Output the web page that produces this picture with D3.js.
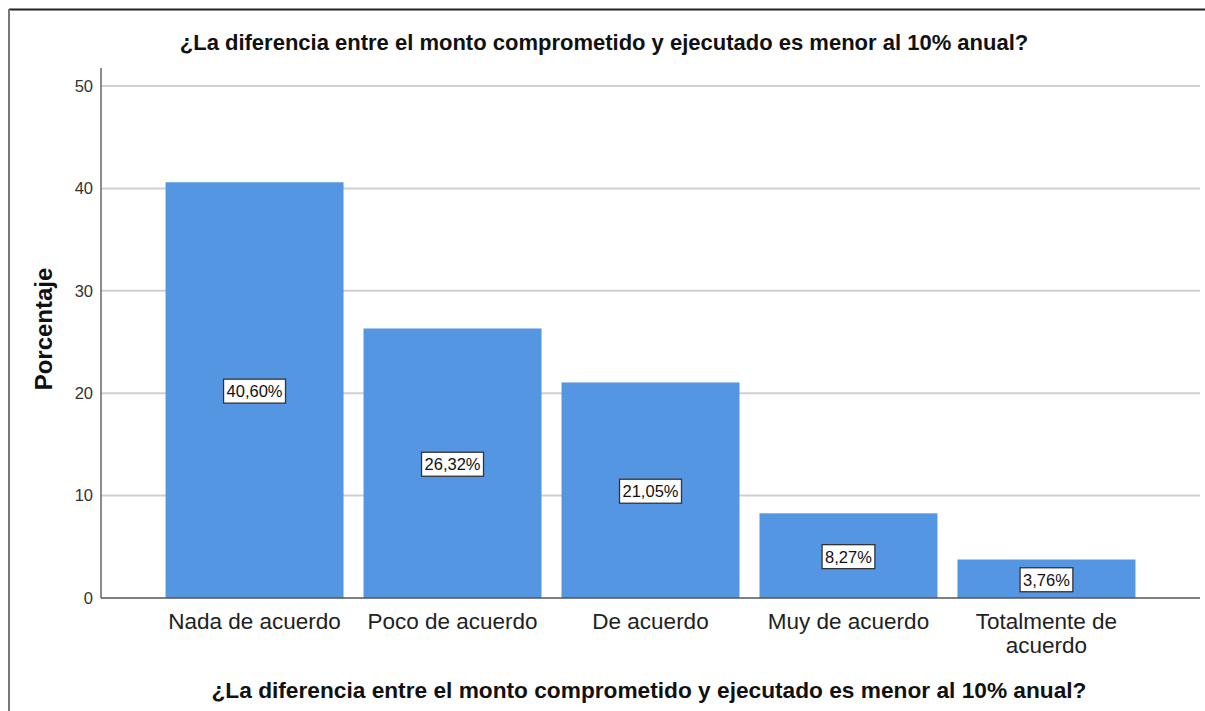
<!DOCTYPE html>
<html><head><meta charset="utf-8">
<script src="https://cdn.jsdelivr.net/npm/d3@7"></script>
<style>body{margin:0;background:#fff;font-family:"Liberation Sans",Arial,sans-serif}</style>
</head><body><svg id="c" width="1205" height="711"></svg>
<script>
const title = "¿La diferencia entre el monto comprometido y ejecutado es menor al 10% anual?";
const yLabel = "Porcentaje";
const categories = ["Nada de acuerdo","Poco de acuerdo","De acuerdo","Muy de acuerdo","Totalmente de acuerdo"];
const categoryLines = [["Nada de acuerdo"],["Poco de acuerdo"],["De acuerdo"],["Muy de acuerdo"],["Totalmente de","acuerdo"]];
const values = [40.60, 26.32, 21.05, 8.27, 3.76];
const valueLabels = ["40,60%","26,32%","21,05%","8,27%","3,76%"];
const yTicks = [0,10,20,30,40,50];

const svg = d3.select("#c");
const m = {left:101, right:1200, top:68, bottom:598};
const y = d3.scaleLinear().domain([0,50]).range([598,86]);
const x = d3.scaleBand().domain(categories).range([m.left,m.right]).paddingInner(0.101).paddingOuter(0.326);

// frame
svg.append("line").attr("x1",9).attr("x2",1205).attr("y1",9.5).attr("y2",9.5).attr("stroke","#222").attr("stroke-width",2);
svg.append("line").attr("x1",9).attr("x2",9).attr("y1",9).attr("y2",711).attr("stroke","#777").attr("stroke-width",2);

// gridlines
svg.append("g").selectAll("line").data(yTicks.filter(d=>d>0)).join("line")
  .attr("x1",m.left).attr("x2",m.right).attr("y1",d=>y(d)).attr("y2",d=>y(d))
  .attr("stroke","#d0d0d0").attr("stroke-width",2);

// bars
svg.append("g").selectAll("rect").data(values).join("rect")
  .attr("x",(d,i)=>x(categories[i])).attr("width",x.bandwidth())
  .attr("y",d=>y(d)).attr("height",d=>y(0)-y(d)).attr("fill","#5596e3");

// axes
const yAxis = d3.axisLeft(y).tickValues(yTicks).tickSize(0).tickPadding(8);
const gy = svg.append("g").attr("transform",`translate(${m.left},0)`).call(yAxis);
gy.select(".domain").remove();
gy.selectAll("text").attr("font-size",16.5).attr("fill","#333").attr("font-family","Liberation Sans, Arial, sans-serif");
svg.append("line").attr("x1",m.left).attr("x2",m.left).attr("y1",m.top).attr("y2",m.bottom).attr("stroke","#666").attr("stroke-width",1.5);
svg.append("line").attr("x1",m.left).attr("x2",m.right).attr("y1",m.bottom).attr("y2",m.bottom).attr("stroke","#555").attr("stroke-width",1.5);

// category labels
const gx = svg.append("g");
categoryLines.forEach((lines,i)=>{
  const t = gx.append("text").attr("x",x(categories[i])+x.bandwidth()/2).attr("y",629)
    .attr("text-anchor","middle").attr("font-size",22.5).attr("fill","#222");
  lines.forEach((l,j)=>t.append("tspan").attr("x",x(categories[i])+x.bandwidth()/2).attr("dy",j?24:0).text(l));
});

// value labels
values.forEach((v,i)=>{
  const cx = x(categories[i])+x.bandwidth()/2, cy=(y(v)+y(0))/2+1;
  const g = svg.append("g");
  const t = g.append("text").attr("x",cx).attr("y",cy).attr("dy","0.36em").attr("text-anchor","middle")
    .attr("font-size",16.5).attr("fill","#111").text(valueLabels[i]);
  const w = t.node().getComputedTextLength();
  g.insert("rect","text").attr("x",cx-w/2-3).attr("y",cy-12).attr("width",w+6).attr("height",24)
    .attr("fill","#fff").attr("stroke","#333").attr("stroke-width",1.3);
});

// titles
svg.append("text").attr("x",604).attr("y",50).attr("text-anchor","middle").attr("font-weight","bold")
  .attr("font-size",22).attr("fill","#111").text(title);
svg.append("text").attr("x",649).attr("y",698).attr("text-anchor","middle").attr("font-weight","bold")
  .attr("font-size",22.7).attr("fill","#111").text(title);
svg.append("text").attr("transform","translate(52,329) rotate(-90)").attr("text-anchor","middle").attr("font-weight","bold")
  .attr("font-size",24).attr("fill","#111").text(yLabel);
</script></body></html>
